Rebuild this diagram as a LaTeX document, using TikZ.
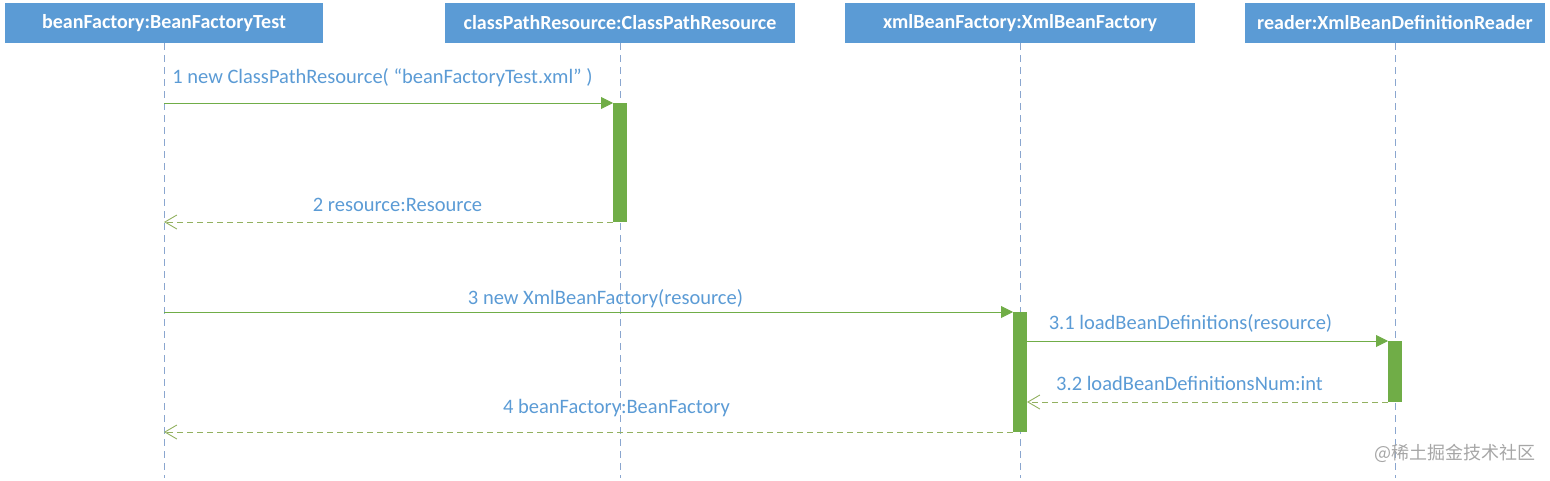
\documentclass[tikz,border=0pt]{standalone}
\usepackage{fontspec}
\setmainfont{Carlito}
\newfontfamily\cjk{Noto Sans CJK SC}
\usetikzlibrary{positioning,calc,arrows.meta}
\definecolor{headblue}{HTML}{5B9BD5}
\definecolor{msggreen}{HTML}{70AD47}
\definecolor{retgreen}{HTML}{92B160}
\definecolor{lifeblue}{HTML}{8AA6CF}
\definecolor{markgray}{HTML}{A6A6A6}
\tikzset{OBJECT/.style={rectangle,fill=headblue,text=white,font=\bfseries\fontsize{20}{22}\selectfont,minimum height=40pt,inner sep=0pt,outer sep=0pt}}
\tikzset{LIFELINE/.style={lifeblue,line width=0.8pt,dash pattern=on 7pt off 5pt}}
\tikzset{ACT/.style={rectangle,fill=msggreen,minimum width=14pt,inner sep=0pt,outer sep=0pt,anchor=north}}
\tikzset{CALL/.style={msggreen,line width=0.9pt,-{Triangle[length=12pt,width=12pt]}}}
\tikzset{RETURN/.style={retgreen,line width=0.9pt,dash pattern=on 6pt off 4pt,-{Straight Barb[length=12pt,width=14pt]}}}
\tikzset{LABEL/.style={text=headblue,font=\fontsize{20.5}{22}\selectfont,inner sep=0pt}}

\begin{document}
\begin{tikzpicture}[x=1pt,y=1pt]
\useasboundingbox (0,0) rectangle (1550,-480);

\node[OBJECT, minimum width=318pt] (n_bft) at (164,-23) {beanFactory:BeanFactoryTest};
\node[OBJECT, minimum width=350pt, right=122pt of n_bft] (n_cpr) {classPathResource:ClassPathResource};
\node[OBJECT, minimum width=350pt, right=50pt of n_cpr] (n_xbf) {xmlBeanFactory:XmlBeanFactory};
\node[OBJECT, minimum width=300pt, right=50pt of n_xbf] (n_rdr) {reader:XmlBeanDefinitionReader};

% lifelines
\foreach \n in {n_bft,n_cpr,n_xbf,n_rdr}{
  \coordinate (c_end_\n) at ($(\n.south)+(0,-435)$);
  \draw[LIFELINE] (\n.south) -- (c_end_\n);
}

\node[ACT, minimum height=119pt] (n_act_cpr) at ($(n_cpr.south)+(0,-60)$) {};
\node[ACT, minimum height=120pt] (n_act_xbf) at ($(n_xbf.south)+(0,-269)$) {};
\node[ACT, minimum height=61pt] (n_act_rdr) at ($(n_rdr.south)+(0,-298)$) {};

\coordinate (c_1_0) at (n_bft |- n_act_cpr.north);
\draw[CALL] (c_1_0) -- (n_act_cpr.north west) node[LABEL,midway,yshift=25pt,xshift=-6pt]{1 new ClassPathResource( “beanFactoryTest.xml” )};

\coordinate (c_2_1) at (n_bft |- n_act_cpr.south);
\draw[RETURN] (n_act_cpr.south west) -- (c_2_1) node[LABEL,midway,yshift=17pt,xshift=9pt]{2 resource:Resource};

\coordinate (c_3_0) at (n_bft |- n_act_xbf.north);
\draw[CALL] (c_3_0) -- (n_act_xbf.north west) node[LABEL,midway,yshift=13pt,xshift=17pt]{3 new XmlBeanFactory(resource)};

\coordinate (c_31_0) at (n_act_xbf.east |- n_act_rdr.north);
\draw[CALL] (c_31_0) -- (n_act_rdr.north west) node[LABEL,midway,yshift=18pt,xshift=-17pt]{3.1 loadBeanDefinitions(resource)};

\coordinate (c_32_1) at (n_act_xbf.east |- n_act_rdr.south);
\draw[RETURN] (n_act_rdr.south west) -- (c_32_1) node[LABEL,midway,yshift=19pt,xshift=-18pt]{3.2 loadBeanDefinitionsNum:int};

\coordinate (c_4_1) at (n_bft |- n_act_xbf.south);
\draw[RETURN] (n_act_xbf.south west) -- (c_4_1) node[LABEL,midway,yshift=24pt,xshift=28pt]{4 beanFactory:BeanFactory};

\node[text=markgray, font=\cjk\fontsize{18}{20}\selectfont] (n_mark) at (1455,-453) {@稀土掘金技术社区};

\end{tikzpicture}
\end{document}
